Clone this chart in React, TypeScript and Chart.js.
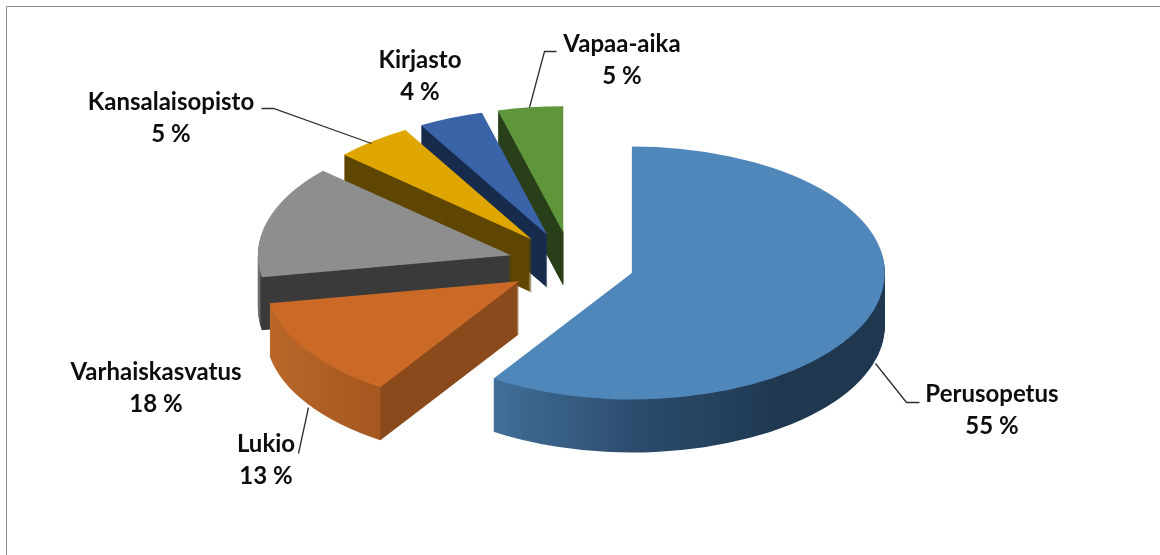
import React, { useEffect, useRef } from "react";
import { Chart, registerables } from "chart.js";

Chart.register(...registerables);

const categories = ["Perusopetus", "Lukio", "Varhaiskasvatus", "Kansalaisopisto", "Kirjasto", "Vapaa-aika"];
const shares = [55, 13, 18, 5, 4, 5];

// Foreshortening of the 3-D view: degrees added to each slice's closing edge.
const viewShiftDeg = [15.2, 15.2, 2.4, 2.4, 3, 0];

const topColors = ["#4f87ba", "#cb6a27", "#8e8e8e", "#e0a600", "#3a63a8", "#5f963c"];
// [distance from slice tip in px, colour] stops for the extruded wall
const wallStops: [number, string][][] = [
  [[-140, "#426f99"], [0, "#2c4d6e"], [150, "#1f3850"], [255, "#1f3850"]],
  [[-252, "#bb672b"], [-139, "#a4571f"], [-138, "#8a4a1c"], [5, "#8a4a1c"]],
  [[-255, "#8c8c8c"], [-251, "#666666"], [-250, "#3a3a3a"], [5, "#3a3a3a"]],
  [[-260, "#5e4500"], [5, "#5e4500"]],
  [[-260, "#172b4d"], [5, "#172b4d"]],
  [[-260, "#293f1a"], [5, "#293f1a"]],
];
// Radians trimmed from a wall's [start, end] so a hidden wall cannot peek past the top face.
const wallTrim = [[0.02, 0], [0, 0], [0, 0], [0, 0], [0, 0], [0, 0.02]];

const CENTER_Y = 264;
const TILT = 0.5;
const DEPTH = 53;
const EXPLODE = 63;

const labelPlaces = [
  { x: 992, y: 394 },
  { x: 266, y: 444 },
  { x: 156, y: 372 },
  { x: 171, y: 102 },
  { x: 420, y: 60 },
  { x: 622, y: 44 },
];
const LINE_GAP = 32;
const leaders: number[][][] = [
  [[875, 363], [906, 402], [919, 402]],
  [[308, 407], [298, 453]],
  [[371, 143], [273, 108], [261, 108]],
  [[529, 107], [544, 51], [556, 51]],
];

const pie3d = {
  id: "pie3d",
  beforeDatasetDraw(chart: any) {
    const ctx = chart.ctx;
    const arcs = chart.getDatasetMeta(0).data;
    const rad = (d: number) => (d * Math.PI) / 180;
    for (let i = arcs.length - 1; i >= 0; i--) {
      const arc = arcs[i];
      const start = arc.startAngle + (i > 0 ? rad(viewShiftDeg[i - 1]) : 0);
      const end = arc.endAngle + rad(viewShiftDeg[i]);
      const mid = (start + end) / 2;
      const make = (fill: any, a: number, b: number) => {
        const p = Object.create(arc);
        p.startAngle = a;
        p.endAngle = b;
        p.circumference = b - a;
        p.options = { ...arc.options, backgroundColor: fill, borderWidth: 0 };
        return p;
      };
      const stops = wallStops[i];
      const x0 = arc.x + stops[0][0];
      const x1 = arc.x + stops[stops.length - 1][0];
      const grad = ctx.createLinearGradient(x0, 0, x1, 0);
      stops.forEach(([at, c]) => grad.addColorStop((at - stops[0][0]) / (x1 - x0), c));
      ctx.save();
      ctx.translate(0, CENTER_Y);
      ctx.scale(1, TILT);
      ctx.translate(0, -arc.y);
      ctx.translate(Math.cos(mid) * EXPLODE, Math.sin(mid) * EXPLODE);
      const wall = make(grad, start + wallTrim[i][0], end - wallTrim[i][1]);
      for (let d = DEPTH; d >= 1; d--) {
        ctx.save();
        ctx.translate(0, d / TILT);
        wall.draw(ctx);
        ctx.restore();
      }
      make(topColors[i], start, end).draw(ctx);
      ctx.restore();
    }
    return false;
  },
  afterDraw(chart: any) {
    const ctx = chart.ctx;
    ctx.save();
    ctx.strokeStyle = "#8a8a8a";
    ctx.lineWidth = 1;
    ctx.beginPath();
    ctx.moveTo(6.5, 555);
    ctx.lineTo(6.5, 6.5);
    ctx.lineTo(1160, 6.5);
    ctx.stroke();
    ctx.strokeStyle = "#2e2e2e";
    ctx.lineWidth = 1.3;
    leaders.forEach((pts) => {
      ctx.beginPath();
      pts.forEach(([x, y], k) => (k ? ctx.lineTo(x + 0.5, y + 0.5) : ctx.moveTo(x + 0.5, y + 0.5)));
      ctx.stroke();
    });
    ctx.fillStyle = "#0d0d0d";
    ctx.font = 'bold 24px "Lato"';
    ctx.textAlign = "center";
    ctx.textBaseline = "middle";
    categories.forEach((name, i) => {
      const { x, y } = labelPlaces[i];
      ctx.fillText(name, x, y);
      ctx.fillText(`${shares[i]} %`, x, y + LINE_GAP);
    });
    ctx.restore();
  },
};

export default function App() {
  const ref = useRef<HTMLCanvasElement>(null);
  useEffect(() => {
    document.body.style.margin = "0";
    document.body.style.background = "#fff";
    const chart = new Chart(ref.current as HTMLCanvasElement, {
      type: "pie",
      data: {
        labels: categories,
        datasets: [{ data: shares, backgroundColor: topColors, borderWidth: 0 }],
      },
      options: {
        animation: false,
        responsive: false,
        layout: { padding: { top: 24.5, bottom: 24.5, left: 0, right: 17 } },
        plugins: { legend: { display: false }, tooltip: { enabled: false } },
      },
      plugins: [pie3d],
    } as any);
    return () => chart.destroy();
  }, []);
  return <canvas ref={ref} width={1160} height={555} style={{ display: "block" }} />;
}
